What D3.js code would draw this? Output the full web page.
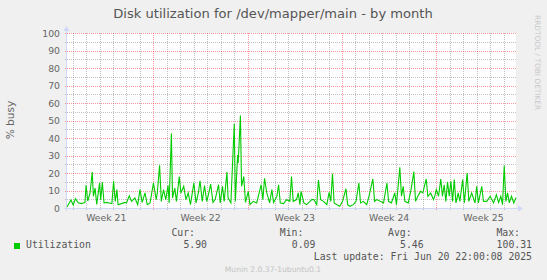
<!DOCTYPE html>
<html>
<head>
<meta charset="utf-8">
<script src="https://cdnjs.cloudflare.com/ajax/libs/d3/7.8.5/d3.min.js"></script>
<style>
	body { margin: 0; background: #f0f0f0; }
	svg { display: block; }
</style>
</head>
<body>
<svg id="chart" width="547" height="280"></svg>
<script>
var title = "Disk utilization for /dev/mapper/main - by month";
var yLabel = "% busy";
var seriesName = "Utilization";
var endTime = "2025-06-20T22:00:00Z";
var spanHours = 800;
var yTicks = [0, 10, 20, 30, 40, 50, 60, 70, 80, 90, 100];

// [hours since left edge, % busy]
var busy = [
	[0,0.6],[7,4.6],[11,1.7],[15,5.3],[20,3],[26,2.5],[32,3.2],[34,13],[37,4],[41,8.6],
	[45,20.6],[47,6.7],[50,11.4],[53,2],[58,14.3],[60,4.8],[63,14.7],[66,2.9],[71,3.2],[75,2.9],
	[80,2.5],[83,15.4],[86,3.8],[89,10.5],[91,1.9],[97,2.5],[103,3.2],[106,2.9],[111,7],[115,3.8],
	[121,5.7],[126,1.9],[130,10.5],[134,3.2],[139,8.6],[143,1.9],[148,2.9],[154,14.3],[159,4.8],[161,9],
	[165,24.4],[168,3.8],[172,10.5],[176,4.8],[180,13],[182,2.9],[186,42.5],[188,5.7],[192,11.4],[195,3.8],
	[200,18],[203,8.6],[208,12.4],[212,4.8],[216,8.6],[220,1.9],[226,14.3],[230,2.9],[234,8.6],[237,15.6],
	[241,3.8],[245,12.8],[249,3.8],[252,7.6],[256,13.7],[260,3.2],[264,4.8],[270,13.3],[273,2.9],[277,12.4],
	[280,3.8],[285,20.6],[287,5.7],[292,2.9],[298,48.2],[300,3.8],[304,30.3],[305,25.7],[309,52.8],[311,12.4],
	[315,18],[318,3.2],[323,9.5],[326,1.9],[332,3.8],[338,2.9],[346,13.3],[349,4.8],[352,17],[356,8.6],
	[361,2.9],[365,10.5],[368,3.2],[374,6.7],[377,13.3],[380,2.9],[386,2.5],[391,4.8],[397,3.8],
	[400,18],[403,3.8],[409,4.8],[412,8.6],[415,1.9],[417,9.5],[422,2.9],[427,1.9],[433,3.8],[436,4.8],
	[440,4.8],[445,1.9],[448,16],[452,4.8],[457,3.8],[463,1.9],[467,9],[470,3.8],[473,19.6],[476,2.9],
	[481,1.9],[486,1],[491,3.8],[497,11],[500,1.9],[504,1],[510,1.9],[515,3.8],[520,14.3],[523,2.9],
	[528,3.8],[534,1.9],[538,6.7],[545,16.6],[548,3.8],[552,4.8],[558,3.8],[564,2.9],[570,14.3],[573,3.8],
	[578,2.9],[584,8.6],[587,1.9],[593,23.2],[596,6.7],[599,12.4],[602,3.8],[608,2.9],[613,10.5],[618,20.8],
	[621,3.8],[625,6.7],[630,9.5],[634,8.6],[640,16.6],[643,6.7],[648,8.6],[653,4.8],[656,7.6],[658,10.5],
	[662,6.7],[666,16.6],[669,6.7],[672,13.3],[675,3.8],[678,14.9],[681,6.7],[684,15.2],[687,3.8],[690,16.2],
	[693,2.9],[697,8.6],[700,3.8],[705,16.2],[708,2.9],[713,20],[716,3.8],[721,8.6],[727,2.9],[730,12.4],
	[733,2.9],[739,12.4],[742,3.8],[748,3.8],[754,6.7],[760,2.9],[765,7.6],[769,3.2],[773,6.7],[776,1.9],
	[779,24.2],[782,3.8],[785,8.6],[788,2.9],[792,6.7],[796,2.9],[800,5.9]
];

var statNames = ["Cur:", "Min:", "Avg:", "Max:"];
var statValues = ["5.90", "0.09", "5.46", "100.31"];
var lastUpdate = "Last update: Fri Jun 20 22:00:08 2025";
var footer = "Munin 2.0.37-1ubuntu0.1";
var watermark = "RRDTOOL / TOBI OETIKER";

var svg = d3.select("#chart"),
	plotL = 67, plotR = 516, plotT = 33, plotB = 208;

var end = new Date(endTime),
	start = new Date(end.getTime() - spanHours * 3600e3);

var x = d3.scaleUtc().domain([start, end]).range([plotL, plotR]);
var y = d3.scaleLinear().domain([0, 100]).range([plotB, plotT]);

function px(v) { return Math.round(v) + 0.5; }
function hourDate(h) { return new Date(start.getTime() + h * 3600e3); }

// canvas
svg.append("rect")
	.attr("x", plotL).attr("y", plotT)
	.attr("width", plotR - plotL).attr("height", plotB - plotT)
	.attr("fill", "#fff");

var grid = svg.append("g").attr("fill", "none").attr("stroke-dasharray", "1,1");

// minor grid
var minorY = d3.range(5, 100, 10);
grid.selectAll(".hmin").data(minorY).enter().append("line")
	.attr("x1", plotL - 2).attr("x2", plotR)
	.attr("y1", function(d) { return px(y(d)); })
	.attr("y2", function(d) { return px(y(d)); })
	.attr("stroke", "rgba(143,143,143,0.55)");

var days = d3.utcDay.range(d3.utcDay.ceil(start), end).filter(function(d) { return d.getUTCDay() != 0; });
grid.selectAll(".vmin").data(days).enter().append("line")
	.attr("x1", function(d) { return px(x(d)); })
	.attr("x2", function(d) { return px(x(d)); })
	.attr("y1", plotT).attr("y2", plotB + 2)
	.attr("stroke", "rgba(143,143,143,0.55)");

// major grid
grid.selectAll(".hmaj").data(yTicks.slice(1)).enter().append("line")
	.attr("x1", plotL - 2).attr("x2", plotR)
	.attr("y1", function(d) { return px(y(d)); })
	.attr("y2", function(d) { return px(y(d)); })
	.attr("stroke", "rgba(255,0,0,0.4)");

var sundays = d3.utcSunday.range(start, end);
grid.selectAll(".vmaj").data(sundays).enter().append("line")
	.attr("x1", function(d) { return px(x(d)); })
	.attr("x2", function(d) { return px(x(d)); })
	.attr("y1", plotT).attr("y2", plotB + 2)
	.attr("stroke", "rgba(255,0,0,0.4)");

// y labels
svg.append("g")
	.attr("font-family", "DejaVu Sans")
	.attr("font-size", "9.3px")
	.attr("fill", "#666")
	.attr("text-anchor", "end")
	.selectAll("text").data(yTicks).enter().append("text")
	.attr("x", 60)
	.attr("y", function(d) { return y(d) + 3.5; })
	.text(function(d) { return d; });

// week labels, centered on each week
var weekStarts = d3.utcSunday.range(d3.utcSunday.floor(start), end);
var weekFmt = d3.utcFormat("%V");
svg.append("g")
	.attr("font-family", "DejaVu Sans")
	.attr("font-size", "9.3px")
	.attr("fill", "#666")
	.attr("text-anchor", "middle")
	.selectAll("text").data(weekStarts).enter().append("text")
	.attr("x", function(d) { return x(d3.utcHour.offset(d, 84)); })
	.attr("y", 221)
	.text(function(d) { return "Week " + weekFmt(d3.utcHour.offset(d, 84)); });

// axes
var axisCol = "#cfd6f8";
svg.append("line")
	.attr("x1", plotL - 3).attr("x2", plotR + 2)
	.attr("y1", px(y(0))).attr("y2", px(y(0)))
	.attr("stroke", axisCol);
svg.append("line")
	.attr("x1", plotL - 0.5).attr("x2", plotL - 0.5)
	.attr("y1", plotB + 3).attr("y2", plotT - 3)
	.attr("stroke", axisCol);
svg.append("path")
	.attr("d", "M" + (plotR + 2) + "," + (px(y(0)) - 3) + "l5,3l-5,3z")
	.attr("fill", axisCol);
svg.append("path")
	.attr("d", "M" + (plotL - 3.5) + "," + (plotT - 2) + "l3,-5l3,5z")
	.attr("fill", axisCol);

// series
var line = d3.line()
	.x(function(d) { return x(hourDate(d[0])); })
	.y(function(d) { return y(d[1]); });

svg.append("path")
	.datum(busy)
	.attr("d", line)
	.attr("fill", "none")
	.attr("stroke", "#00cc00")
	.attr("stroke-width", 1.1);

// title and side labels
svg.append("text")
	.attr("x", 273).attr("y", 18)
	.attr("text-anchor", "middle")
	.attr("font-family", "DejaVu Sans")
	.attr("font-size", "13.1px")
	.attr("fill", "#555")
	.text(title);

svg.append("text")
	.attr("transform", "translate(14,120) rotate(-90)")
	.attr("text-anchor", "middle")
	.attr("font-family", "DejaVu Sans")
	.attr("font-size", "10.6px")
	.attr("fill", "#666")
	.text(yLabel);

svg.append("text")
	.attr("transform", "translate(535,15) rotate(90)")
	.attr("font-family", "DejaVu Sans")
	.attr("font-size", "7.4px")
	.attr("fill", "#c8c8c8")
	.text(watermark);

// legend
var legend = svg.append("g")
	.attr("font-family", "DejaVu Sans Mono")
	.attr("font-size", "9.8px")
	.attr("fill", "#555");

legend.append("rect")
	.attr("x", 14).attr("y", 243)
	.attr("width", 6).attr("height", 6)
	.attr("fill", "#00cc00");

legend.append("text").attr("x", 26).attr("y", 248).text(seriesName);

var statX = d3.scalePoint().domain(statNames).range([207, 532]);
legend.selectAll(".head").data(statNames).enter().append("text")
	.attr("x", function(d) { return statX(d) - 12; })
	.attr("y", 236)
	.attr("text-anchor", "end")
	.text(function(d) { return d; });
legend.selectAll(".val").data(statValues).enter().append("text")
	.attr("x", function(d, i) { return statX(statNames[i]); })
	.attr("y", 248)
	.attr("text-anchor", "end")
	.text(function(d) { return d; });

legend.append("text")
	.attr("x", 532).attr("y", 260)
	.attr("text-anchor", "end")
	.text(lastUpdate);

svg.append("text")
	.attr("x", 273).attr("y", 272)
	.attr("text-anchor", "middle")
	.attr("font-family", "DejaVu Sans")
	.attr("font-size", "7.6px")
	.attr("fill", "#c4c4c4")
	.text(footer);
</script>
</body>
</html>
